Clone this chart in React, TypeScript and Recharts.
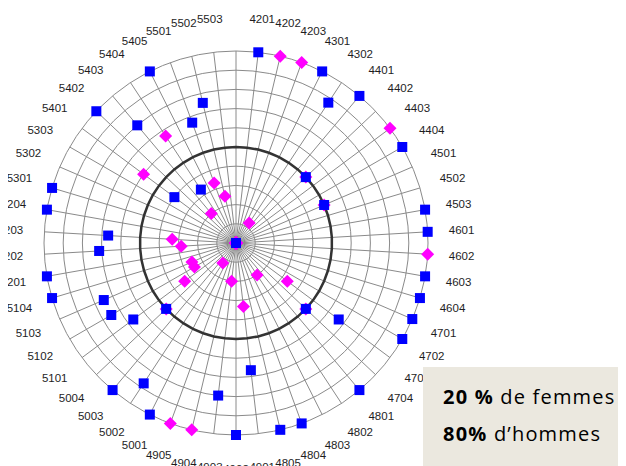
import React from 'react';
import { RadarChart, Radar, PolarGrid, PolarAngleAxis, PolarRadiusAxis } from 'recharts';

// Catégories (la première, en haut, n'a pas d'étiquette)
const categories = [
  '', '4201', '4202', '4203', '4301', '4302', '4401', '4402', '4403', '4404',
  '4501', '4502', '4503', '4601', '4602', '4603', '4604', '4701', '4702', '4703',
  '4704', '4801', '4802', '4803', '4804', '4805', '4901', '4902', '4903', '4904',
  '4905', '5001', '5002', '5003', '5004', '5101', '5102', '5103', '5104', '5201',
  '5202', '5203', '5204', '5301', '5302', '5303', '5401', '5402', '5403', '5404',
  '5405', '5501', '5502', '5503',
];

// % d'hommes (carrés bleus)
const hommes = [
  0, 100, 0, 0, 100, 87.5, 100, 50, 0, 100,
  50, 0, 100, 100, 0, 100, 100, 100, 100, 66.7,
  50, 100, 0, 0, 100, 100, 66.7, 100, 80, 0,
  0, 100, 87.5, 100, 50, 66.7, 75, 75, 100, 100,
  71.4, 66.7, 100, 100, 0, 0, 40, 100, 80, 33.3,
  100, 66.7, 75, 0,
];

// % de femmes (losanges magenta)
const femmes = [
  0, 0, 100, 100, 0, 12.5, 0, 50, 100, 0,
  50, 0, 0, 0, 100, 0, 0, 0, 0, 33.3,
  50, 0, 20, 0, 0, 0, 33.3, 0, 20, 100,
  100, 0, 12.5, 0, 50, 33.3, 25, 25, 0, 0,
  28.6, 33.3, 0, 0, 0, 0, 60, 0, 20, 66.7,
  0, 33.3, 25, 0,
];

const seuil = 50;
const radiusDomain = [0, 100];
const radiusTickCount = 11;

const data = categories.map((cat, i) => ({
  cat,
  hommes: hommes[i],
  femmes: femmes[i],
  seuil,
}));

const AngleTick = (props: any) => {
  const { x, y, payload } = props;
  if (!payload || !payload.value) return <g />;
  return (
    <text
      x={x}
      y={y}
      textAnchor="middle"
      dominantBaseline="central"
      fontSize={11.5}
      fontFamily="'Liberation Sans', Arial, sans-serif"
      fill="#1e1e1e"
    >
      {payload.value}
    </text>
  );
};

const SquareDot = (props: any) => {
  const { cx, cy, index } = props;
  return <rect key={`sq-${index}`} x={cx - 5} y={cy - 5} width={10} height={10} fill="#0000ff" />;
};

const DiamondDot = (props: any) => {
  const { cx, cy, index } = props;
  const d = 6.5;
  return (
    <polygon
      key={`di-${index}`}
      points={`${cx},${cy - d} ${cx + d},${cy} ${cx},${cy + d} ${cx - d},${cy}`}
      fill="#ff00ff"
    />
  );
};

export default function App() {
  return (
    <div style={{ position: 'relative', width: 626, height: 466, margin: '-8px 0 0 -8px', background: '#fff', overflow: 'hidden' }}>
      <RadarChart
        width={626}
        height={466}
        cx={236}
        cy={243}
        outerRadius={192}
        data={data}
        margin={{ top: 0, right: 0, bottom: 0, left: 0 }}
      >
        <PolarGrid gridType="circle" stroke="#8a8a8a" strokeWidth={1} />
        <PolarAngleAxis
          dataKey="cat"
          tick={<AngleTick />}
          tickLine={false}
          axisLine={false}
          tickSize={34}
        />
        <PolarRadiusAxis
          domain={radiusDomain as any}
          tickCount={radiusTickCount}
          tick={false}
          axisLine={false}
        />
        <Radar
          dataKey="seuil"
          stroke="#333333"
          strokeWidth={2.5}
          fill="none"
          fillOpacity={0}
          dot={false}
          isAnimationActive={false}
        />
        <Radar
          dataKey="femmes"
          stroke="none"
          fill="none"
          fillOpacity={0}
          dot={DiamondDot as any}
          isAnimationActive={false}
        />
        <Radar
          dataKey="hommes"
          stroke="none"
          fill="none"
          fillOpacity={0}
          dot={SquareDot as any}
          isAnimationActive={false}
        />
      </RadarChart>
      <div
        style={{
          position: 'absolute',
          left: 423,
          top: 367,
          width: 203,
          height: 99,
          background: '#ebe8df',
          fontFamily: "'Open Sans', 'Noto Sans', sans-serif",
          fontSize: 20,
          letterSpacing: 1.2,
          color: '#000',
        }}
      >
        <div style={{ position: 'absolute', left: 20, top: 20, lineHeight: '20px', whiteSpace: 'nowrap' }}>
          <b>20 %</b> de femmes
        </div>
        <div style={{ position: 'absolute', left: 20, top: 57, lineHeight: '20px', whiteSpace: 'nowrap' }}>
          <b>80%</b> d’hommes
        </div>
      </div>
    </div>
  );
}
